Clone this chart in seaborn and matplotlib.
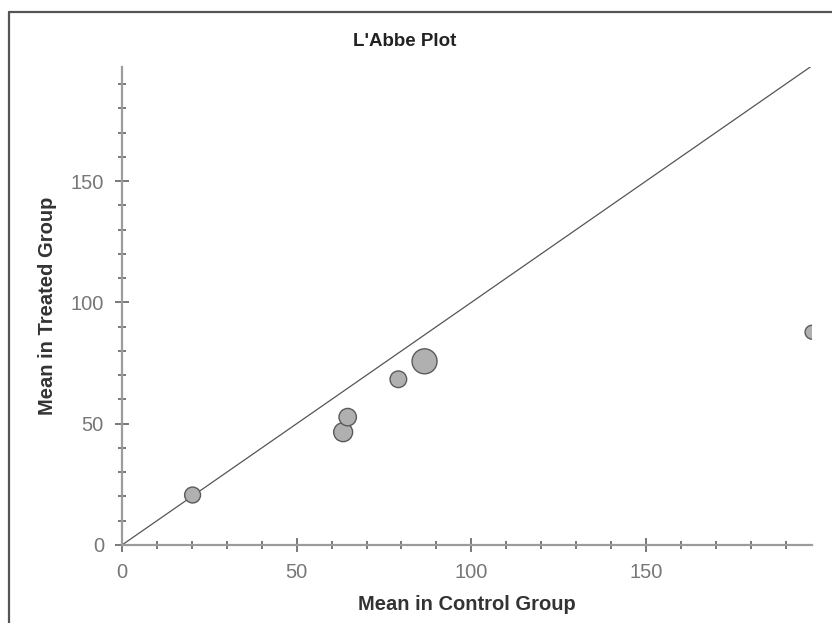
import numpy as np
import pandas as pd
import matplotlib
matplotlib.use("Agg")
import matplotlib.pyplot as plt
from matplotlib.lines import Line2D
from matplotlib.ticker import MultipleLocator
import seaborn as sns

# Study means (control vs treated) and relative study weights
control_mean = [20.2, 63.3, 64.6, 79.1, 86.6, 197.5]
treated_mean = [20.6, 46.5, 52.7, 68.3, 75.7, 87.7]
study_weight = [11.1, 15.7, 13.3, 12.1, 27.2, 8.5]

df = pd.DataFrame({"control": control_mean,
                   "treated": treated_mean,
                   "weight": study_weight})

sns.set_style("white")
plt.rcParams["font.family"] = ["Liberation Sans", "DejaVu Sans"]

fig = plt.figure(figsize=(8.32, 6.23), dpi=100)
ax = fig.add_axes([122 / 832, 1 - 545 / 623, 690 / 832, 478 / 623])

lim = 197.5

# line of equality
ax.plot([0, lim], [0, lim], color="#555555", lw=0.9, zorder=1)

sns.scatterplot(data=df, x="control", y="treated", size="weight",
                sizes=(100, 324), color="#b0b0b0", edgecolor="#5a5a5a",
                linewidth=1.0, legend=False, ax=ax, zorder=3)

ax.set_xlim(0, lim)
ax.set_ylim(0, 197)

ax.xaxis.set_major_locator(MultipleLocator(50))
ax.xaxis.set_minor_locator(MultipleLocator(10))
ax.yaxis.set_major_locator(MultipleLocator(50))
ax.yaxis.set_minor_locator(MultipleLocator(10))

for side in ["top", "right"]:
    ax.spines[side].set_visible(False)
for side in ["left", "bottom"]:
    ax.spines[side].set_color("#9c9c9c")
    ax.spines[side].set_linewidth(1.6)

ax.tick_params(which="major", direction="inout", length=10, width=1.1,
               color="#555555", labelsize=14.5, labelcolor="#777777", pad=8)
ax.tick_params(which="minor", direction="inout", length=5.5, width=1.1,
               color="#555555")
ax.tick_params(left=True, bottom=True, which="both")

ax.set_xlabel("Mean in Control Group", fontsize=14.5, fontweight="bold",
              color="#333333", labelpad=9)
ax.set_ylabel("Mean in Treated Group", fontsize=14.5, fontweight="bold",
              color="#333333", labelpad=10)

fig.text(405 / 832, 1 - 42 / 623, "L'Abbe Plot", ha="center", va="center",
         fontsize=13.5, fontweight="bold", color="#222222")

# frame around the picture (top and left edges)
fig.add_artist(Line2D([8.5 / 832, 1], [1 - 12 / 623, 1 - 12 / 623],
                      transform=fig.transFigure, color="#555555", lw=1.6))
fig.add_artist(Line2D([8.5 / 832, 8.5 / 832], [0, 1 - 12 / 623],
                      transform=fig.transFigure, color="#555555", lw=1.6))

fig.savefig("out.png", dpi=100)
